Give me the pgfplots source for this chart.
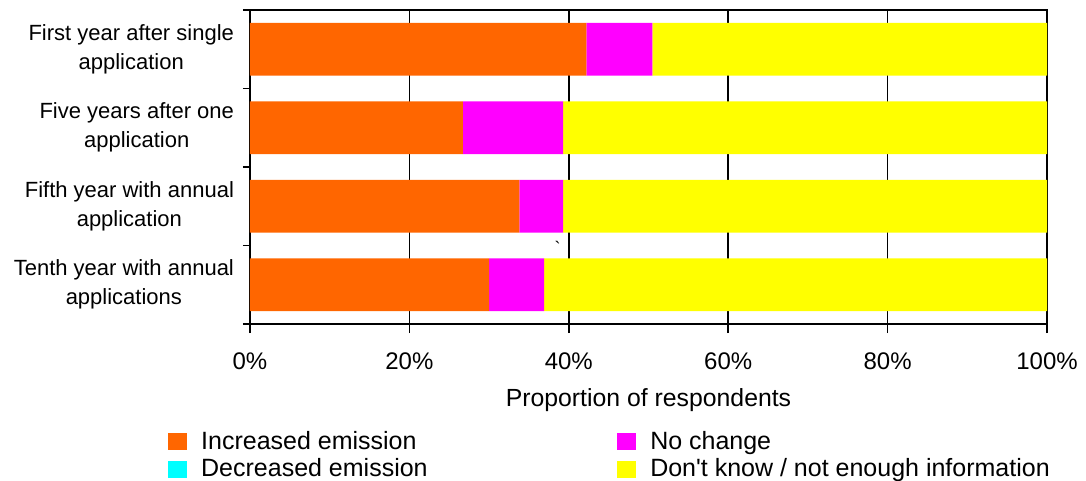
\documentclass[border=0pt]{standalone}
\usepackage{fontspec}
\setmainfont{Liberation Sans}[Ligatures=TeXOff]
\usepackage{pgfplots}
\pgfplotsset{compat=1.18}
\definecolor{cOrange}{HTML}{FF6600}
\definecolor{cCyan}{HTML}{00FFFF}
\definecolor{cMagenta}{HTML}{FF00FF}
\definecolor{cYellow}{HTML}{FFFF00}
\begin{document}
\begin{tikzpicture}
\useasboundingbox (-125pt,-78.5pt) rectangle (418pt,162pt);
\begin{axis}[
  at={(0pt,0pt)}, anchor=south west,
  scale only axis, width=398.5pt, height=157pt,
  xbar stacked, bar width=0.675,
  xmin=0, xmax=100, ymin=0.5, ymax=4.5,
  axis line style={black, line width=0.8pt},
  xtick={0,20,40,60,80,100},
  xticklabel={\pgfmathprintnumber{\tick}\%},
  /pgf/number format/assume math mode=true,
  xmajorgrids, major grid style={black, line width=0.8pt},
  tick align=outside,
  xtick pos=bottom, ytick pos=left,
  major tick length=4.5pt,
  minor tick length=3.5pt,
  x tick style={black, line width=0.8pt},
  ytick={1,2,3,4},
  yticklabels={{Tenth year with annual\\applications},{Fifth year with annual\\application},{Five years after one\\application},{First year after single\\application}},
  major y tick style={draw=none},
  minor ytick={0.5,1.5,2.5,3.5,4.5},
  minor y tick style={black, line width=0.8pt},
  yticklabel style={align=center, font={\fontsize{11}{14.5}\selectfont}},
  xticklabel style={font={\fontsize{12}{14}\selectfont}, yshift=-6.5pt},
  xlabel={Proportion of respondents},
  xlabel style={font={\fontsize{12.4}{14}\selectfont}, yshift=-2.5pt},
  legend columns=2,
  legend cell align=left,
  legend style={at={(-0.1029,-0.331)}, anchor=north west, draw=none, fill=none,
    inner sep=0pt, font={\fontsize{12.5}{14}\selectfont},
    nodes={inner sep=1.5pt},
    /tikz/every odd column/.append style={column sep=5.75pt},
    /tikz/every even column/.append style={column sep=93.4pt}},
]
\addplot[forget plot, fill=cOrange, draw=none] coordinates {(30.0,1) (33.8,2) (26.7,3) (42.2,4)};
\addplot[forget plot, fill=cCyan, draw=none] coordinates {(0,1) (0,2) (0,3) (0,4)};
\addplot[forget plot, fill=cMagenta, draw=none] coordinates {(6.9,1) (5.5,2) (12.6,3) (8.3,4)};
\addplot[forget plot, fill=cYellow, draw=none] coordinates {(63.1,1) (60.7,2) (60.7,3) (49.5,4)};
\addlegendimage{legend image code/.code={\fill[cOrange] (0pt,-4pt) rectangle (8.75pt,4pt);}}
\addlegendentry{Increased emission}
\addlegendimage{legend image code/.code={\fill[cMagenta] (0pt,-4pt) rectangle (8.75pt,4pt);}}
\addlegendentry{No change}
\addlegendimage{legend image code/.code={\fill[cCyan] (0pt,-4pt) rectangle (8.75pt,4pt);}}
\addlegendentry{Decreased emission}
\addlegendimage{legend image code/.code={\fill[cYellow] (0pt,-4pt) rectangle (8.75pt,4pt);}}
\addlegendentry{Don't know / not enough information}
\node[font=\small] at (axis cs:38.6,1.47) {\char96};
\end{axis}
\end{tikzpicture}
\end{document}
